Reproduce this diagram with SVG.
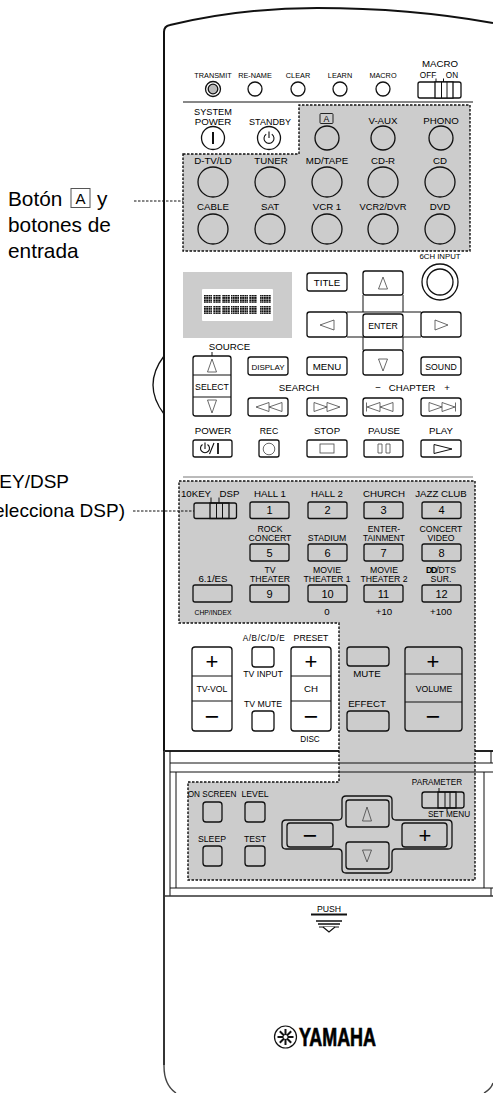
<svg xmlns="http://www.w3.org/2000/svg" width="493" height="1093" viewBox="0 0 493 1093">
<style>
text{font-family:"Liberation Sans",Arial,sans-serif;fill:#000;text-anchor:middle}
.l{font-size:9.7px}
.m{font-size:8.7px}
.f{font-size:8.2px}
.s{font-size:7.3px}
.t{font-size:6.8px}
.n{font-size:11px}
.cap{font-size:20.8px;text-anchor:start}
.note{font-size:19px;text-anchor:end}
.sym{font-size:22px}
.min{font-size:25px}
.b{fill:#fff;stroke:#111;stroke-width:1.3}
.bg{fill:none;stroke:#111;stroke-width:1.3}
.ln{fill:none;stroke:#111;stroke-width:1}
.i{fill:none;stroke:#444;stroke-width:.8}
.d{fill:#ccc;stroke:#111;stroke-width:1.4;stroke-dasharray:2.5 1.5}
.lead{fill:none;stroke:#111;stroke-width:1;stroke-dasharray:2.5 1.5}
</style>
<defs>
<pattern id="dots" width="2.4" height="2.7" patternUnits="userSpaceOnUse"><rect width="2" height="2.2" fill="#111"/></pattern>
</defs>
<rect width="493" height="1093" fill="#fff"/>

<g id="remote-body">
<path d="M164,1065V32Q164,26 170,25Q240,8 317,8Q410,8 493,23" fill="none" stroke="#111" stroke-width="2"/>
<path d="M164,356Q142,385 164,414" fill="none" stroke="#111" stroke-width="1.3"/>
<path d="M183,102H473" class="ln"/>
<path d="M183,477H473" fill="none" stroke="#777" stroke-width="1"/>
<path d="M164,751H493" fill="none" stroke="#222" stroke-width="1.8"/>
<path d="M164,751V1066Q164,1085 176,1093M484,1093Q491,1089 493,1083" fill="none" stroke="#444" stroke-width="1.4"/>
<path d="M170,751V896M491,751V763M491,888V896M176,772V888M484,772V888" class="ln"/>
</g>

<g id="gray-panels">
<path class="d" d="M183,154H299V105H470V251H183Z"/>
<path class="d" d="M179,481H475V880H188V782H339V623H179Z"/>
<path d="M170,763H493M170,772H493M170,888H493" class="ln"/>
<path d="M164,896H493" fill="none" stroke="#333" stroke-width="1.4"/>
</g>

<g id="labels-left">
<text class="cap" x="8" y="206">Botón</text>
<rect x="71" y="188.500" width="19" height="19" fill="none" stroke="#555" stroke-width="1"/>
<text x="80.500" y="204" style="font-size:15px">A</text>
<text class="cap" x="97" y="206">y</text>
<text class="cap" x="8" y="232">botones de</text>
<text class="cap" x="8" y="258">entrada</text>
<text class="note" x="69" y="488">10KEY/DSP</text>
<text class="note" x="125" y="517">(selecciona DSP)</text>
</g>

<g id="connectors">
<path class="lead" d="M134,201H183"/>
<path class="lead" d="M133,511H194"/>
</g>

<g id="indicators">
<g id="transmit"><text class="s" x="213" y="77.500">TRANSMIT</text><circle cx="213" cy="89" r="7.500" fill="#fff" stroke="#111" stroke-width="1.300"/><circle cx="213" cy="89" r="4.800" fill="#bbb" stroke="#111" stroke-width="1.300"/></g>
<g id="rename"><text class="s" x="255" y="77.500">RE-NAME</text><circle class="b" cx="255" cy="89" r="7"/></g>
<g id="clear"><text class="s" x="298" y="77.500">CLEAR</text><circle class="b" cx="298" cy="89" r="7"/></g>
<g id="learn"><text class="s" x="340" y="77.500">LEARN</text><circle class="b" cx="340" cy="89" r="7"/></g>
<g id="macro"><text class="s" x="383" y="77.500">MACRO</text><circle class="b" cx="383" cy="89" r="7"/></g>
<g id="macro-switch">
<text class="l" x="440" y="67">MACRO</text><text class="f" x="428" y="78">OFF</text><text class="f" x="452" y="78">ON</text>
<rect class="b" x="418" y="82" width="43" height="16" rx="2"/>
<rect class="b" x="435" y="82" width="18" height="16"/>
<path class="ln" d="M441.500,82V98M447,82V98M436,78.500V82M443.500,78.500V82"/>
</g>
</g>

<g id="input-buttons">
<g id="system-power"><text x="213" y="114.500" style="font-size:9.200px">SYSTEM</text><text class="l" x="213" y="124.500">POWER</text><circle class="b" cx="213" cy="138" r="11.500"/><path d="M213,132V144" stroke="#111" stroke-width="2"/></g>
<g id="standby"><text x="270" y="124.500" style="font-size:9px">STANDBY</text><circle class="b" cx="269" cy="138" r="11.500"/><path d="M266.200,134.200A5,5 0 1 0 271.800,134.200M269,131.500V138" fill="none" stroke="#111" stroke-width="1.100"/></g>
<g id="btn-a"><rect x="320" y="113.500" width="13" height="10" rx="1" fill="none" stroke="#222" stroke-width="1"/><text class="m" x="326.500" y="122">A</text><circle class="bg" cx="327" cy="138" r="12"/></g>
<g id="v-aux"><text class="l" x="383" y="124">V-AUX</text><circle class="bg" cx="383" cy="138" r="12"/></g>
<g id="phono"><text class="l" x="441" y="124">PHONO</text><circle class="bg" cx="441" cy="138" r="12"/></g>
<g id="dtv"><text class="l" x="213" y="163.500">D-TV/LD</text><circle class="bg" cx="213" cy="182" r="15"/></g>
<g id="tuner"><text class="l" x="271" y="163.500">TUNER</text><circle class="bg" cx="270" cy="182" r="15"/></g>
<g id="mdtape"><text class="l" x="327" y="163.500">MD/TAPE</text><circle class="bg" cx="327" cy="182" r="15"/></g>
<g id="cdr"><text class="l" x="383" y="163.500">CD-R</text><circle class="bg" cx="383" cy="182" r="15"/></g>
<g id="cd"><text class="l" x="440" y="163.500">CD</text><circle class="bg" cx="440" cy="182" r="15"/></g>
<g id="cable"><text class="l" x="213" y="210">CABLE</text><circle class="bg" cx="213" cy="229" r="15"/></g>
<g id="sat"><text class="l" x="270" y="210">SAT</text><circle class="bg" cx="270" cy="229" r="15"/></g>
<g id="vcr1"><text class="l" x="327" y="210">VCR 1</text><circle class="bg" cx="327" cy="229" r="15"/></g>
<g id="vcr2"><text class="l" x="383" y="210" style="font-size:9.300px">VCR2/DVR</text><circle class="bg" cx="383" cy="229" r="15"/></g>
<g id="dvd"><text class="l" x="440" y="210">DVD</text><circle class="bg" cx="440" cy="229" r="15"/></g>
</g>

<g id="ch6-input"><rect x="410" y="252.500" width="62" height="9" fill="#fff"/><text x="440" y="259" style="font-size:7.800px">6CH INPUT</text><circle class="b" cx="440" cy="282" r="18"/><circle class="b" cx="440" cy="282" r="13"/></g>

<g id="display">
<rect x="183" y="272" width="109" height="66" fill="#ccc"/>
<rect x="202" y="289" width="71" height="32" rx="1" fill="#fff"/>
<g fill="url(#dots)">
<rect x="204" y="295" width="8" height="8"/><rect x="213" y="295" width="8" height="8"/><rect x="222" y="295" width="8" height="8"/><rect x="231" y="295" width="8" height="8"/><rect x="240" y="295" width="8" height="8"/><rect x="249" y="295" width="8" height="8"/><rect x="260" y="295" width="11" height="8"/>
<rect x="204" y="306" width="8" height="8"/><rect x="213" y="306" width="8" height="8"/><rect x="222" y="306" width="8" height="8"/><rect x="231" y="306" width="8" height="8"/><rect x="240" y="306" width="8" height="8"/><rect x="249" y="306" width="8" height="8"/><rect x="260" y="306" width="11" height="8"/>
</g>
</g>

<g id="cursor-pad">
<path class="ln" d="M363,295V312M403,295V312M347,312H421M347,337H421M363,337V350M403,337V350"/>
<g id="title"><rect class="b" x="307" y="273" width="40" height="18" rx="2.500"/><text class="l" x="327" y="285.500">TITLE</text></g>
<g id="up"><rect class="b" x="363" y="271" width="40" height="24" rx="2.500"/><path class="i" d="M383,277L378.500,289H387.500Z"/></g>
<g id="left"><rect class="b" x="307" y="312" width="40" height="25" rx="2.500"/><path class="i" d="M320,325L334,320V330Z"/></g>
<g id="right"><rect class="b" x="421" y="312" width="40" height="25" rx="2.500"/><path class="i" d="M448,325L435,320V330Z"/></g>
<g id="enter"><rect class="b" x="363" y="314" width="40" height="23" rx="2.500"/><text class="m" x="383" y="328.500">ENTER</text></g>
<g id="down"><rect class="b" x="363" y="350" width="40" height="25" rx="2.500"/><path class="i" d="M383,371L378.500,359H387.500Z"/></g>
</g>

<g id="source-select">
<text class="l" x="229.500" y="350">SOURCE</text>
<path class="ln" d="M212,352V356"/>
<rect class="b" x="193" y="356" width="38" height="60" rx="2.500"/>
<path class="ln" d="M193,375H231M193,397H231"/>
<path class="i" d="M212,359L207.500,372H216.500ZM212,413L207.500,400H216.500Z"/>
<text class="m" x="212" y="390">SELECT</text>
</g>

<g id="row-display">
<g id="btn-display"><rect class="b" x="248" y="357" width="40" height="18" rx="2.500"/><text x="268" y="369.500" style="font-size:8px">DISPLAY</text></g>
<g id="menu"><rect class="b" x="307" y="357" width="40" height="18" rx="2.500"/><text class="l" x="327" y="369.500">MENU</text></g>
<g id="sound"><rect class="b" x="421" y="357" width="40" height="18" rx="2.500"/><text class="m" x="441" y="369.500">SOUND</text></g>
</g>

<g id="transport">
<text class="l" x="299" y="391">SEARCH</text>
<text class="l" x="378" y="391">−</text><text class="l" x="412" y="391">CHAPTER</text><text class="l" x="447" y="391">+</text>
<g id="rew"><rect class="b" x="248" y="398" width="40" height="18" rx="2.500"/><path class="i" d="M256,407L269,402.500V411.500ZM269,407L282,402.500V411.500Z"/></g>
<g id="ffw"><rect class="b" x="307" y="398" width="40" height="18" rx="2.500"/><path class="i" d="M327,407L314,402.500V411.500ZM340,407L327,402.500V411.500Z"/></g>
<g id="prev"><rect class="b" x="363" y="398" width="40" height="18" rx="2.500"/><path class="i" d="M366.500,402.500V411.500M380,402.500L367,407L380,411.500ZM393,402.500L380,407L393,411.500Z"/></g>
<g id="next"><rect class="b" x="421" y="398" width="40" height="18" rx="2.500"/><path class="i" d="M455.500,402.500V411.500M442,402.500L455,407L442,411.500ZM429,402.500L442,407L429,411.500Z"/></g>
<g id="power"><text class="l" x="213" y="434">POWER</text><rect class="b" x="193" y="440" width="39" height="17" rx="2"/><path d="M202.500,444.500A4.500,4.500 0 1 0 207.500,444.500M205,442.500V449M209.500,454L214,443" fill="none" stroke="#111" stroke-width="1.100"/><path d="M218,443V454" stroke="#111" stroke-width="1.800"/></g>
<g id="rec"><text class="m" x="269" y="434">REC</text><rect class="b" x="259" y="440" width="20" height="17" rx="2"/><circle class="i" cx="269" cy="449" r="5.800"/></g>
<g id="stop"><text class="l" x="327" y="434">STOP</text><rect class="b" x="307" y="440" width="40" height="17" rx="2"/><rect class="i" x="320" y="444" width="14" height="9"/></g>
<g id="pause"><text class="l" x="384" y="434">PAUSE</text><rect class="b" x="364" y="440" width="39" height="17" rx="2"/><path class="i" d="M378,444H382V453H378ZM386,444H390V453H386Z"/></g>
<g id="play"><text class="l" x="441" y="434">PLAY</text><rect class="b" x="421" y="440" width="40" height="17" rx="2"/><path class="ln" d="M434,444.500L452,449L434,453.500Z"/></g>
</g>

<g id="dsp-section">
<g id="key-switch"><text class="l" x="196" y="497">10KEY</text><text class="l" x="229.500" y="497">DSP</text><rect class="bg" x="194" y="503" width="42.500" height="15.500" rx="2"/><rect class="bg" x="210" y="503" width="19" height="15.500"/><path class="ln" d="M216.500,503V518.500M222.500,503V518.500M211,497.500V503M219,497.500V503"/></g>
<g id="p1"><text class="l" x="270" y="497">HALL 1</text><rect class="bg" x="250" y="502" width="39" height="16.500" rx="2"/><text class="n" x="269.500" y="514">1</text></g>
<g id="p2"><text class="l" x="327" y="497">HALL 2</text><rect class="bg" x="308" y="502" width="39" height="16.500" rx="2"/><text class="n" x="327.500" y="514">2</text></g>
<g id="p3"><text class="l" x="384" y="497">CHURCH</text><rect class="bg" x="364" y="502" width="39" height="16.500" rx="2"/><text class="n" x="383.500" y="514">3</text></g>
<g id="p4"><text class="l" x="441" y="497">JAZZ CLUB</text><rect class="bg" x="422" y="502" width="39" height="16.500" rx="2"/><text class="n" x="441.500" y="514">4</text></g>
<g id="p5"><text class="m" x="270" y="531.500">ROCK</text><text class="m" x="270" y="540.500">CONCERT</text><rect class="bg" x="250" y="544" width="39" height="17" rx="2"/><text class="n" x="269.500" y="556.500">5</text></g>
<g id="p6"><text class="m" x="327" y="540.500">STADIUM</text><rect class="bg" x="308" y="544" width="39" height="17" rx="2"/><text class="n" x="327.500" y="556.500">6</text></g>
<g id="p7"><text class="m" x="384" y="531.500">ENTER-</text><text class="m" x="384" y="540.500" style="font-size:8.300px">TAINMENT</text><rect class="bg" x="364" y="544" width="39" height="17" rx="2"/><text class="n" x="383.500" y="556.500">7</text></g>
<g id="p8"><text class="m" x="441" y="531.500">CONCERT</text><text class="m" x="441" y="540.500">VIDEO</text><rect class="bg" x="422" y="544" width="39" height="17" rx="2"/><text class="n" x="441.500" y="556.500">8</text></g>
<g id="es"><text class="l" x="213" y="582">6.1/ES</text><rect class="bg" x="193" y="585" width="39" height="17" rx="2"/><text class="t" x="213" y="615">CHP/INDEX</text></g>
<g id="p9"><text class="m" x="270" y="573">TV</text><text class="m" x="270" y="582">THEATER</text><rect class="bg" x="250" y="585" width="39" height="17" rx="2"/><text class="n" x="269.500" y="597.500">9</text></g>
<g id="p10"><text class="m" x="327" y="573">MOVIE</text><text class="m" x="327" y="582">THEATER 1</text><rect class="bg" x="308" y="585" width="39" height="17" rx="2"/><text class="n" x="327.500" y="597.500">10</text><text class="l" x="327" y="615">0</text></g>
<g id="p11"><text class="m" x="384" y="573">MOVIE</text><text class="m" x="384" y="582">THEATER 2</text><rect class="bg" x="364" y="585" width="39" height="17" rx="2"/><text class="n" x="383.500" y="597.500">11</text><text class="l" x="384" y="615">+10</text></g>
<g id="p12"><text class="m" x="441" y="573"><tspan font-weight="bold" letter-spacing="-1.200">DD</tspan>/DTS</text><text class="m" x="441" y="582">SUR.</text><rect class="bg" x="422" y="585" width="39" height="17" rx="2"/><text class="n" x="441.500" y="597.500">12</text><text class="l" x="441" y="615">+100</text></g>
</g>

<g id="tv-section">
<g id="tv-vol"><rect class="b" x="192" y="647" width="40" height="84" rx="3"/><path class="ln" d="M192,676H232M192,701H232"/><text class="sym" x="212" y="669">+</text><text class="m" x="212" y="691.500">TV-VOL</text><text class="min" x="212" y="724.500">−</text></g>
<g id="tv-input"><text class="f" x="264" y="641" style="letter-spacing:.6px">A/B/C/D/E</text><rect class="b" x="252" y="647" width="22" height="20" rx="3"/><text class="m" x="263" y="677">TV INPUT</text></g>
<g id="tv-mute"><text class="m" x="263" y="707">TV MUTE</text><rect class="b" x="252" y="711" width="22" height="20" rx="3"/></g>
<g id="ch"><text class="m" x="311" y="641">PRESET</text><rect class="b" x="291" y="647" width="40" height="84" rx="3"/><path class="ln" d="M291,676H331M291,701H331"/><text class="sym" x="311" y="669">+</text><text class="l" x="311" y="691.500">CH</text><text class="min" x="311" y="724.500">−</text><text class="f" x="310" y="742">DISC</text></g>
<g id="mute"><rect class="bg" x="347" y="647" width="42" height="19" rx="3"/><text class="l" x="367" y="677">MUTE</text></g>
<g id="effect"><text class="l" x="367" y="707">EFFECT</text><rect class="bg" x="347" y="711" width="42" height="20" rx="3"/></g>
<g id="volume"><rect class="bg" x="405" y="647" width="57" height="84" rx="3"/><path class="ln" d="M405,674H462M405,702H462"/><text class="sym" x="433" y="669">+</text><text class="m" x="434" y="691.500">VOLUME</text><text class="min" x="433" y="724.500">−</text></g>
</g>

<g id="setup-section">
<g id="on-screen"><text class="f" x="212" y="797">ON SCREEN</text><rect class="bg" x="203" y="802" width="19" height="20" rx="3"/></g>
<g id="level"><text class="m" x="255" y="797">LEVEL</text><rect class="bg" x="245" y="802" width="20" height="20" rx="3"/></g>
<g id="sleep"><text class="m" x="212" y="842">SLEEP</text><rect class="bg" x="203" y="846" width="19" height="20" rx="3"/></g>
<g id="test"><text class="m" x="255" y="842">TEST</text><rect class="bg" x="245" y="846" width="20" height="20" rx="3"/></g>
<path class="bg" id="pad-outline" d="M346,796H388Q392,796 392,800V816Q392,820 396,820H448Q452,820 452,824V845Q452,849 448,849H396Q392,849 392,853V869Q392,873 388,873H346Q342,873 342,869V853Q342,849 338,849H286Q282,849 282,845V824Q282,820 286,820H338Q342,820 342,816V800Q342,796 346,796Z"/>
<g id="pad-up"><rect class="bg" x="346" y="800" width="43" height="27" rx="3"/><path class="i" d="M367,807L362.500,821H371.500Z"/></g>
<g id="pad-down"><rect class="bg" x="346" y="842" width="43" height="27" rx="3"/><path class="i" d="M367,862L362.500,850H371.500Z"/></g>
<g id="pad-minus"><rect class="bg" x="287" y="823" width="46" height="24" rx="3"/><text class="min" x="310" y="843.500">−</text></g>
<g id="pad-plus"><rect class="bg" x="402" y="823" width="45" height="24" rx="3"/><text class="sym" x="425" y="843">+</text></g>
<g id="parameter"><text class="f" x="437" y="785">PARAMETER</text><rect class="bg" x="422" y="792" width="42" height="16" rx="2.500"/><rect class="bg" x="438" y="792" width="18" height="16"/><path class="ln" d="M445,792V808M450,792V808M439,788V792M447,808V811"/><text class="f" x="449" y="817">SET MENU</text></g>
</g>

<g id="push"><text class="m" x="329" y="912">PUSH</text><path d="M311,914.500H347" stroke="#111" stroke-width="1.800"/><path d="M316,921H342M318,924H340" stroke="#111" stroke-width="1.300"/><path d="M319,927H339" stroke="#111" stroke-width="1"/><path d="M323,927L329,932L335,927" fill="#fff" stroke="#111" stroke-width="1.200"/></g>

<g id="yamaha">
<circle cx="285.500" cy="1037" r="11" fill="#fff" stroke="#111" stroke-width="1.200"/>
<path d="M285.500,1029V1045M277.500,1037H293.500M279.800,1031.300L291.200,1042.700M291.200,1031.300L279.800,1042.700" stroke="#111" stroke-width="2"/>
<circle cx="285.500" cy="1037" r="2" fill="#fff"/>
<text x="337.500" y="1046" textLength="77" lengthAdjust="spacingAndGlyphs" style="font-size:26px;font-weight:bold;stroke:#000;stroke-width:.7px">YAMAHA</text>
</g>
</svg>
